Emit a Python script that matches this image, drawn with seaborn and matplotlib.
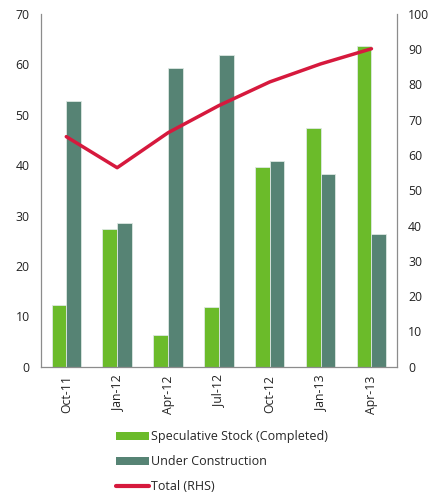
import numpy as np
import pandas as pd
import matplotlib
matplotlib.use("Agg")
import matplotlib.pyplot as plt
import seaborn as sns
from matplotlib.patches import Patch
from matplotlib.lines import Line2D

quarters = ["Oct-11", "Jan-12", "Apr-12", "Jul-12", "Oct-12", "Jan-13", "Apr-13"]
speculative = [12.3, 27.4, 6.3, 11.9, 39.6, 47.4, 63.6]
under_construction = [52.7, 28.6, 59.3, 61.8, 40.8, 38.2, 26.3]
total_rhs = [65.2, 56.4, 66.3, 74.0, 80.7, 85.8, 90.1]

green = "#6bbb2a"
dark = "#568374"
red = "#d6193d"
grey = "#8c8c8c"

df = pd.DataFrame({
    "Quarter": quarters * 2,
    "Value": speculative + under_construction,
    "Series": ["Speculative Stock (Completed)"] * 7 + ["Under Construction"] * 7,
})

sns.set_style("white")
plt.rcParams["font.family"] = ["Open Sans", "DejaVu Sans"]
plt.rcParams["font.size"] = 8.8

fig = plt.figure(figsize=(4.30, 4.93), dpi=100)
ax = fig.add_axes([0.095, 0.256, 0.828, 0.716])

sns.barplot(data=df, x="Quarter", y="Value", hue="Series", order=quarters,
            palette=[green, dark], saturation=1, width=0.58, edgecolor="#dde8e2",
            linewidth=0.6, ax=ax, legend=False)

ax2 = ax.twinx()
sns.lineplot(x=np.arange(len(quarters)), y=total_rhs, color=red, linewidth=2.5, ax=ax2)

ax.set_xlim(-0.5, len(quarters) - 0.5)
ax.set_ylim(0, 70)
ax.set_yticks(range(0, 71, 10))
ax2.set_ylim(0, 100)
ax2.set_yticks(range(0, 101, 10))

ax.set_xlabel("")
ax.set_ylabel("")
ax.set_xticks(range(len(quarters)))
ax.set_xticklabels(quarters, rotation=90)
ax.set_xticks(np.arange(0.5, len(quarters) - 0.5, 1), minor=True)
ax.tick_params(axis="x", which="major", length=0, pad=6, colors="#222222")
ax.tick_params(axis="x", which="minor", length=4, color=grey, direction="out", width=0.8)
ax.tick_params(axis="y", length=0, pad=8, colors="#222222")
ax2.tick_params(axis="y", length=0, pad=8, colors="#222222")

for a in (ax, ax2):
    a.spines["top"].set_visible(False)
    for s in ("left", "right", "bottom"):
        a.spines[s].set_color(grey)
        a.spines[s].set_linewidth(0.9)
ax.spines["right"].set_visible(False)
ax2.spines["left"].set_visible(False)
ax2.spines["bottom"].set_visible(False)

handles = [
    Patch(facecolor=green, edgecolor="none", label="Speculative Stock (Completed)"),
    Patch(facecolor=dark, edgecolor="none", label="Under Construction"),
    Line2D([0], [0], color=red, linewidth=3, label="Total (RHS)"),
]
fig.legend(handles=handles, loc="upper left", bbox_to_anchor=(0.27, 0.127),
           frameon=False, handlelength=2.6, handleheight=0.6,
           handletextpad=0.2, labelspacing=0.95, fontsize=9,
           borderaxespad=0, borderpad=0)

fig.savefig("out.png", dpi=100)
